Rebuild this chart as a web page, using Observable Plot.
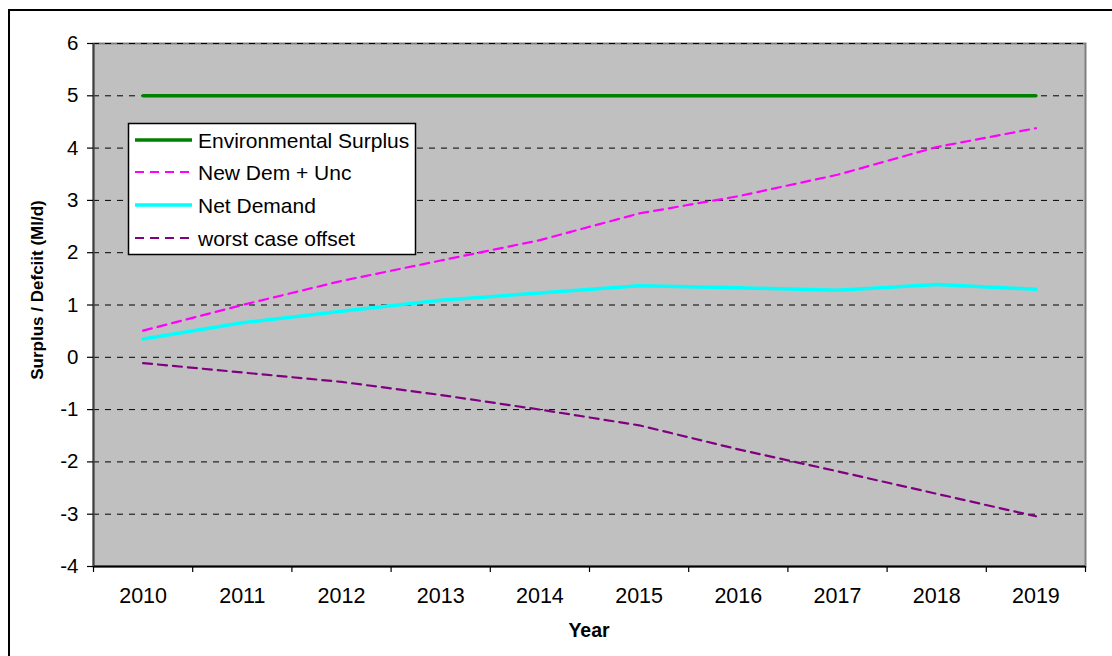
<!DOCTYPE html>
<html><head><meta charset="utf-8">
<script src="https://cdn.jsdelivr.net/npm/d3@7"></script>
<script src="https://cdn.jsdelivr.net/npm/@observablehq/plot@0.6"></script>
<style>
html,body{margin:0;padding:0;background:#fff;overflow:hidden;}
#chart{position:relative;width:1112px;height:656px;}
#border{position:absolute;left:8px;top:9px;width:1200px;height:700px;border:2px solid #000;box-sizing:border-box;pointer-events:none;}
svg{position:absolute;left:0;top:0;}
</style></head><body><div id="chart"><div id="border"></div></div>
<script>
const years = [2010, 2011, 2012, 2013, 2014, 2015, 2016, 2017, 2018, 2019];
const envSurplus = [5, 5, 5, 5, 5, 5, 5, 5, 5, 5];
const newDemUnc = [0.51, 1.0, 1.46, 1.85, 2.24, 2.75, 3.08, 3.49, 4.02, 4.38];
const netDemand = [0.35, 0.66, 0.88, 1.09, 1.23, 1.37, 1.33, 1.28, 1.39, 1.30];
const worstCase = [-0.11, -0.29, -0.47, -0.72, -1.0, -1.3, -1.76, -2.18, -2.61, -3.04];
const yTicks = [-4, -3, -2, -1, 0, 1, 2, 3, 4, 5, 6];
const seriesNames = ["Environmental Surplus", "New Dem + Unc", "Net Demand", "worst case offset"];
const seriesColors = ["#008000", "#FF00FF", "#00FFFF", "#800080"];
const seriesDash = [null, "9,6", null, "9,6"];
const seriesWidth = [3.5, 2.2, 3.5, 2.2];
const xTitle = "Year";
const yTitle = "Surplus / Defciit (Ml/d)";

const seriesValues = [envSurplus, newDemUnc, netDemand, worstCase];
const rows = seriesNames.map((name, s) => years.map((yr, i) => ({series: name, year: yr, value: seriesValues[s][i]})));
const boundaries = [...years.map(y => y - 0.5), years[years.length - 1] + 0.5];

const font = "'Liberation Sans', Arial, sans-serif";

const plot = Plot.plot({
  width: 1112,
  height: 656,
  marginLeft: 93,
  marginRight: 27,
  marginTop: 43,
  marginBottom: 90,
  style: {fontFamily: font, background: "transparent", color: "#000"},
  x: {domain: [boundaries[0], boundaries[boundaries.length - 1]], label: null},
  y: {domain: [yTicks[0], yTicks[yTicks.length - 1]], label: null},
  marks: [
    Plot.frame({fill: "#C0C0C0", stroke: "#808080", strokeWidth: 2}),
    Plot.ruleY(yTicks.slice(1), {stroke: "#000", strokeWidth: 1, strokeDasharray: "6,6"}),
    ...rows.map((data, s) => Plot.line(data, {
      x: "year", y: "value",
      stroke: seriesColors[s],
      strokeWidth: seriesWidth[s],
      strokeDasharray: seriesDash[s],
      strokeLinejoin: "round"
    })),
    Plot.ruleY([yTicks[0]], {stroke: "#000", strokeWidth: 2}),
    Plot.ruleX([boundaries[0]], {stroke: "#404040", strokeWidth: 2}),
    Plot.axisX(boundaries, {tickSize: 6, tickFormat: () => "", label: null, stroke: "#000", strokeWidth: 1.2}),
    Plot.axisX(years, {tickSize: 0, tickPadding: 21, fontSize: 21.5, label: null, tickFormat: d => String(d)}),
    Plot.axisY(yTicks, {tickSize: 6, tickPadding: 9, fontSize: 20.5, label: null, tickFormat: d => String(d), stroke: "#000", strokeWidth: 1.2})
  ]
});

document.getElementById("chart").appendChild(plot);

const svg = d3.select(plot);
// axis titles
svg.append("text")
  .attr("x", 589).attr("y", 637)
  .attr("text-anchor", "middle")
  .attr("font-family", font).attr("font-weight", "bold").attr("font-size", 19.5)
  .text(xTitle);
svg.append("text")
  .attr("transform", "translate(43,290) rotate(-90)")
  .attr("text-anchor", "middle")
  .attr("font-family", font).attr("font-weight", "bold").attr("font-size", 17)
  .text(yTitle);

// legend
const lg = svg.append("g").attr("text-anchor", "start");
lg.append("rect").attr("x", 128.5).attr("y", 123.5).attr("width", 287).attr("height", 131)
  .attr("fill", "#fff").attr("stroke", "#000").attr("stroke-width", 1.5);
const rowY = [140, 172, 205, 238];
seriesNames.forEach((name, s) => {
  lg.append("line").attr("x1", 135).attr("x2", 192).attr("y1", rowY[s]).attr("y2", rowY[s])
    .attr("stroke", seriesColors[s]).attr("stroke-width", seriesWidth[s])
    .attr("stroke-dasharray", seriesDash[s]);
  lg.append("text").attr("x", 198).attr("y", rowY[s]).attr("dy", "0.36em")
    .attr("text-anchor", "start")
    .attr("font-family", font).attr("font-size", 21)
    .text(name);
});
</script>
</body></html>
